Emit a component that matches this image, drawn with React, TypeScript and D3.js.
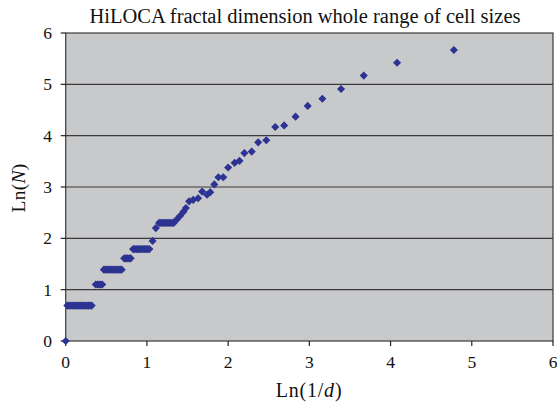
import React from "react";
import * as d3 from "d3";

const title = "HiLOCA fractal dimension whole range of cell sizes";
const xTicks = [0, 1, 2, 3, 4, 5, 6];
const yTicks = [0, 1, 2, 3, 4, 5, 6];

// Ln(1/d) readings
const lnInvD = [
  0,
  0.02, 0.04, 0.06, 0.08, 0.1, 0.12, 0.14, 0.16, 0.18, 0.2, 0.22, 0.24, 0.26, 0.28, 0.3, 0.32,
  0.37, 0.39, 0.41, 0.43, 0.45,
  0.47, 0.49, 0.51, 0.53, 0.55, 0.57, 0.59, 0.61, 0.63, 0.65, 0.67, 0.69,
  0.72, 0.74, 0.76, 0.78, 0.8,
  0.83, 0.85, 0.87, 0.89, 0.91, 0.93, 0.95, 0.97, 0.99, 1.01, 1.03,
  1.07, 1.11,
  1.15, 1.17, 1.19, 1.21, 1.23, 1.25, 1.27, 1.29, 1.31, 1.33,
  1.37, 1.41, 1.45, 1.48,
  1.52, 1.57, 1.63, 1.68, 1.74, 1.78, 1.83, 1.88, 1.94, 2.0, 2.08, 2.14,
  2.2, 2.29, 2.37, 2.47, 2.58, 2.69, 2.83, 2.98, 3.16, 3.39, 3.67, 4.08, 4.78,
];
// Ln(N) readings
const lnN = [
  0,
  0.69, 0.69, 0.69, 0.69, 0.69, 0.69, 0.69, 0.69, 0.69, 0.69, 0.69, 0.69, 0.69, 0.69, 0.69, 0.69,
  1.1, 1.1, 1.1, 1.1, 1.1,
  1.39, 1.39, 1.39, 1.39, 1.39, 1.39, 1.39, 1.39, 1.39, 1.39, 1.39, 1.39,
  1.61, 1.61, 1.61, 1.61, 1.61,
  1.79, 1.79, 1.79, 1.79, 1.79, 1.79, 1.79, 1.79, 1.79, 1.79, 1.79,
  1.95, 2.2,
  2.3, 2.3, 2.3, 2.3, 2.3, 2.3, 2.3, 2.3, 2.3, 2.3,
  2.37, 2.44, 2.52, 2.59,
  2.72, 2.75, 2.78, 2.91, 2.85, 2.9, 3.05, 3.19, 3.19, 3.38, 3.47, 3.51,
  3.66, 3.69, 3.87, 3.91, 4.17, 4.2, 4.37, 4.58, 4.72, 4.91, 5.17, 5.42, 5.67,
];

const W = 557;
const H = 406;
const left = 65.7;
const right = 553;
const top = 33;
const bottom = 341;

export default function App() {
  const x = d3.scaleLinear().domain([0, 6]).range([left, right]);
  const y = d3.scaleLinear().domain([0, 6]).range([bottom, top]);
  const diamond = d3.symbol().type(d3.symbolDiamond2).size(42)() as string;
  const font = "'Liberation Serif', 'Times New Roman', serif";
  const pts = lnInvD.map((v, i) => [v, lnN[i]]);

  return (
    <svg
      width={W}
      height={H}
      style={{ position: "fixed", left: 0, top: 0, background: "#fff" }}
      fontFamily={font}
    >
      <rect x={left} y={top} width={right - left} height={bottom - top} fill="#c8c9cb" />
      {yTicks.slice(1, -1).map((t) => (
        <line key={"g" + t} x1={left} x2={right} y1={y(t)} y2={y(t)} stroke="#3a3a3a" strokeWidth={1.2} />
      ))}
      <rect x={left} y={top} width={right - left} height={bottom - top} fill="none" stroke="#3a3a3a" strokeWidth={1.2} />
      {yTicks.map((t) => (
        <g key={"y" + t}>
          <line x1={left - 5} x2={left} y1={y(t)} y2={y(t)} stroke="#222" strokeWidth={1.2} />
          <text x={52} y={y(t) + 6} textAnchor="end" fontSize={17.5} fill="#111">{t}</text>
        </g>
      ))}
      {xTicks.map((t) => (
        <g key={"x" + t}>
          <line x1={x(t)} x2={x(t)} y1={bottom} y2={bottom + 5} stroke="#222" strokeWidth={1.2} />
          <text x={x(t)} y={368} textAnchor="middle" fontSize={17.5} fill="#111">{t}</text>
        </g>
      ))}
      {pts.map(([a, b], i) => (
        <path key={i} d={diamond} transform={`translate(${x(a)},${y(b)})`} fill="#2c3392" />
      ))}
      <text x={305} y={23} textAnchor="middle" fontSize={20.5} fill="#111">{title}</text>
      <text x={309} y={397} textAnchor="middle" fontSize={20} letterSpacing={0.8} fill="#111">
        Ln(1/<tspan fontStyle="italic">d</tspan>)
      </text>
      <text transform="translate(25,188) rotate(-90)" textAnchor="middle" fontSize={19.5} letterSpacing={0.3} fill="#111">
        Ln(<tspan fontStyle="italic">N</tspan>)
      </text>
    </svg>
  );
}
